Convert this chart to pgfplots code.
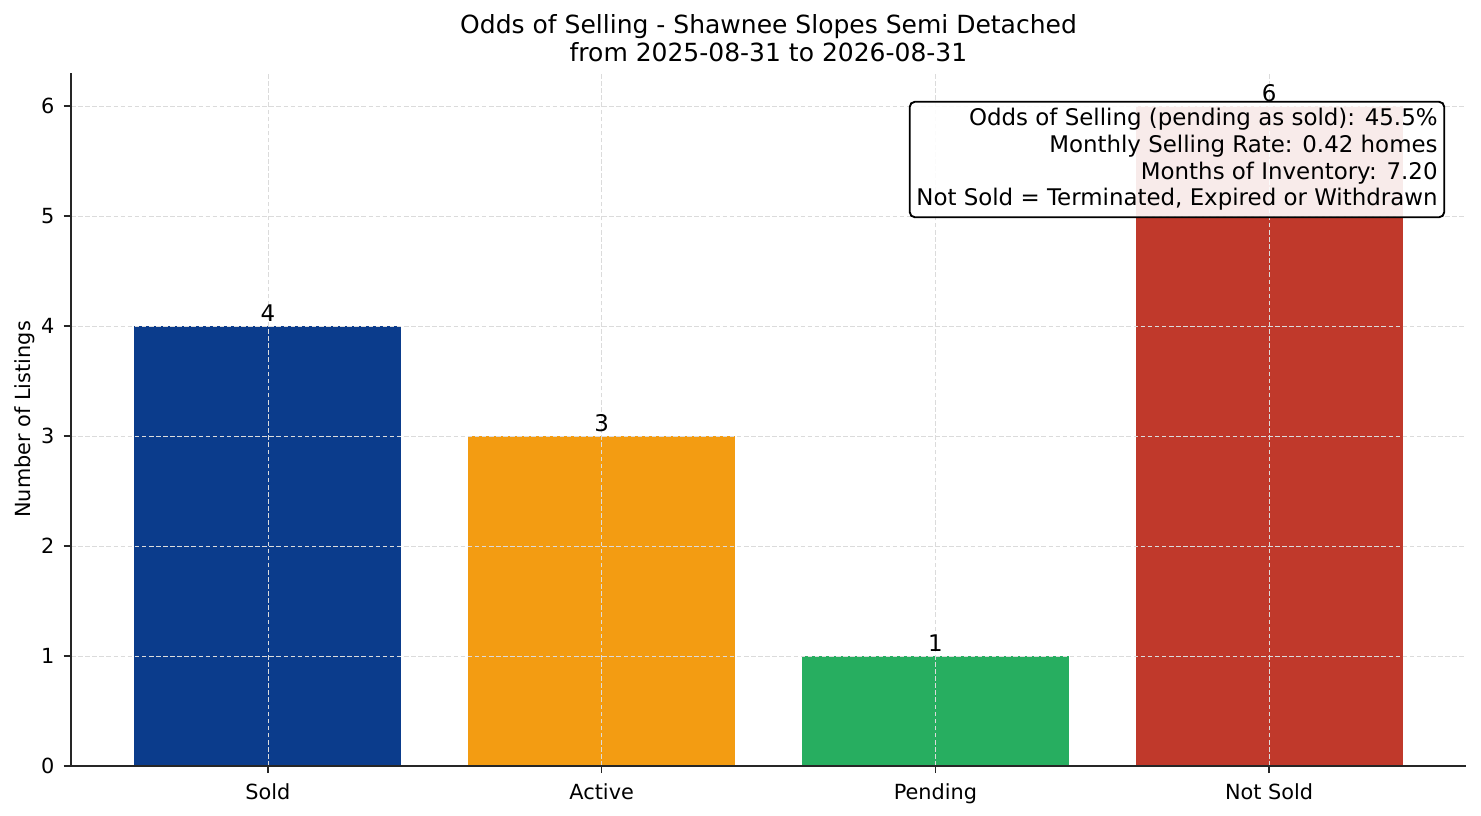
\documentclass[border=0pt]{standalone}
\usepackage{fontspec}
\setmainfont{DejaVu Sans}
\usepackage{pgfplots}
\pgfplotsset{compat=1.18}
\definecolor{cSold}{HTML}{0B3C8C}
\definecolor{cActive}{HTML}{F39C12}
\definecolor{cPending}{HTML}{27AE60}
\definecolor{cNot}{HTML}{C0392B}
\definecolor{spine}{HTML}{262626}
\begin{document}
\begin{tikzpicture}
\begin{axis}[
  scale only axis,
  width=669.6pt, height=332.6pt,
  xmin=-0.59, xmax=3.59, ymin=0, ymax=6.3,
  axis x line*=bottom, axis y line*=left,
  axis line style={spine, line width=0.7pt},
  xtick={0,1,2,3},
  xticklabels={Sold,Active,Pending,Not Sold},
  ytick={0,1,2,3,4,5,6},
  tick style={spine, line width=0.7pt},
  tick align=outside,
  major tick length=3.5pt,
  /pgf/number format/assume math mode=true,
  tick label style={font=\fontsize{10}{12}\selectfont, text=black},
  xticklabel style={yshift=-1.5pt},
  yticklabel style={xshift=-1pt},
  ylabel={Number of Listings},
  ylabel style={font=\fontsize{10}{12}\selectfont, yshift=-4pt},
  grid=major,
  major grid style={gray!28, line width=0.3pt, dash pattern=on 2.2pt off 1.2pt},
  axis on top,
  bar width=0.8,
  nodes near coords,
  every node near coord/.style={font=\fontsize{11}{13}\selectfont, text=black, inner sep=1pt, anchor=south, yshift=0.8pt},
  title={Odds of Selling - Shawnee Slopes Semi Detached\\from 2025-08-31 to 2026-08-31},
  title style={font=\fontsize{12}{13.6}\selectfont, align=center, yshift=-4.3pt},
]
\addplot[ybar, bar shift=0pt, fill=cSold, draw=none] coordinates {(0,4)};
\addplot[ybar, bar shift=0pt, fill=cActive, draw=none] coordinates {(1,3)};
\addplot[ybar, bar shift=0pt, fill=cPending, draw=none] coordinates {(2,1)};
\addplot[ybar, bar shift=0pt, fill=cNot, draw=none] coordinates {(3,6)};
\end{axis}
\node[anchor=north east, draw=black, line width=0.9pt, rounded corners=2.5pt,
      fill=white, fill opacity=0.9, text opacity=1, inner sep=3.2pt,
      align=right, font=\fontsize{11}{12.8}\selectfont]
  at ([xshift=-10pt, yshift=-13.4pt]current axis.north east)
  {Odds of Selling (pending as sold): 45.5\%\\Monthly Selling Rate: 0.42 homes\\Months of Inventory: 7.20\\Not Sold = Terminated, Expired or Withdrawn};
\pgfresetboundingbox
\path ([xshift=-34.1pt, yshift=-24pt]current axis.south west) rectangle ([xshift=7.2pt, yshift=35pt]current axis.north east);
\end{tikzpicture}
\end{document}
